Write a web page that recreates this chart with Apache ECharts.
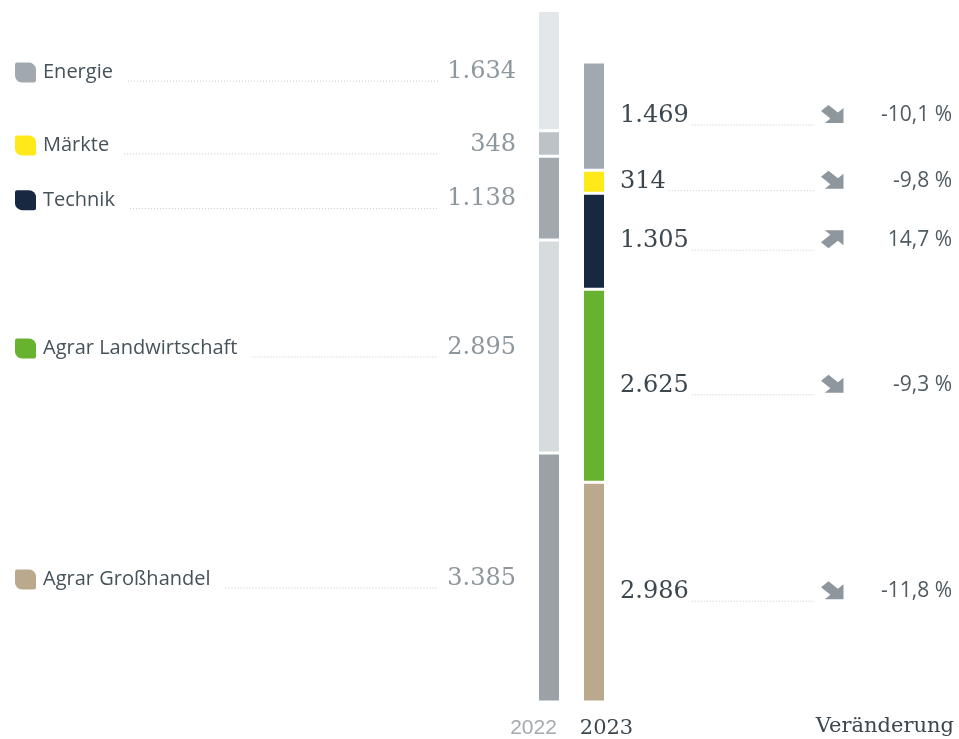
<!DOCTYPE html>
<html>
<head>
<meta charset="utf-8">
<script src="https://cdn.jsdelivr.net/npm/echarts@6/dist/echarts.min.js"></script>
<style>
html, body { margin: 0; padding: 0; background: #fff; }
#main { width: 959px; height: 739px; }
</style>
</head>
<body>
<div id="main"></div>
<script>
// Daten (von oben nach unten im Stapel)
var categories = ['Energie', 'Märkte', 'Technik', 'Agrar Landwirtschaft', 'Agrar Großhandel'];
var years = ['2022', '2023'];
var values2022 = [1634, 348, 1138, 2895, 3385];
var values2023 = [1469, 314, 1305, 2625, 2986];
var changeLabels = ['-10,1 %', '-9,8 %', '14,7 %', '-9,3 %', '-11,8 %'];
var changeUp = [false, false, true, false, false];

var colors2022 = ['#e3e7ea', '#bcc3c7', '#a1a9af', '#d6dbde', '#9aa1a7'];
var colors2023 = ['#a1a9af', '#ffe919', '#172840', '#67b22f', '#bba98d'];

var labelFont = '20px "Open Sans"';
var numFont = '24px "DejaVu Serif"';
var pctFont = '21px "Open Sans"';
var dotColor = '#c3c8cb';

var chart = echarts.init(document.getElementById('main'));

function fmt(v) {
    return String(v).replace(/\B(?=(\d{3})+(?!\d))/g, '.');
}

var measureCtx = document.createElement('canvas').getContext('2d');
function measure(text, font) {
    measureCtx.font = font;
    return measureCtx.measureText(text).width;
}

// gestapelte Balken: erste Serie liegt unten
var barSeries = [];
for (var i = categories.length - 1; i >= 0; i--) {
    barSeries.push({
        type: 'bar',
        name: categories[i],
        stack: 'total',
        barWidth: 23,
        silent: true,
        itemStyle: { borderColor: '#fff', borderWidth: 1.5 },
        data: [
            { value: values2022[i], itemStyle: { color: colors2022[i] } },
            { value: values2023[i], itemStyle: { color: colors2023[i] } }
        ]
    });
}

// Segmentgrenzen für die Beschriftungen
var segData = [];
[values2022, values2023].forEach(function (vals, yi) {
    var base = 0;
    for (var i = vals.length - 1; i >= 0; i--) {
        segData.push([yi, base, base + vals[i], i]);
        base += vals[i];
    }
});

// Pfeil nach rechts unten, für "hoch" gespiegelt
function arrowPoints(up) {
    var pts = [[18, 18], [3, 18], [7.5, 13.5], [0, 6], [6, 0], [13.5, 7.5], [18, 3]];
    return pts.map(function (p) {
        return [p[0], up ? 18 - p[1] : p[1]];
    });
}

function renderLabels(params, api) {
    var yi = api.value(0), start = api.value(1), end = api.value(2), ci = api.value(3);
    var p = api.coord([yi, (start + end) / 2]);
    var bx = p[0], cy = p[1];
    var children = [];
    if (yi === 0) {
        var ly = cy + 2;
        var name = categories[ci];
        var nw = measure(name, labelFont);
        var valStr = fmt(values2022[ci]);
        children.push({
            type: 'rect',
            shape: { x: 15, y: ly - 10, width: 21, height: 20, r: [2, 7, 2, 7] },
            style: { fill: colors2023[ci] }
        });
        children.push({
            type: 'text',
            style: { text: name, x: 43, y: ly, verticalAlign: 'middle', font: labelFont, fill: '#46525a' }
        });
        children.push({
            type: 'line',
            shape: { x1: 43 + nw + 15, y1: ly + 8.5, x2: bx - 111, y2: ly + 8.5 },
            style: { stroke: dotColor, lineWidth: 1, lineDash: [1, 2] }
        });
        children.push({
            type: 'text',
            style: { text: valStr, x: bx - 33, y: ly - 1, align: 'right', verticalAlign: 'middle', font: numFont, fill: '#8d979d' }
        });
    } else {
        var vs = fmt(values2023[ci]);
        var vw = measure(vs, numFont);
        children.push({
            type: 'text',
            style: { text: vs, x: bx + 26, y: cy, verticalAlign: 'middle', font: numFont, fill: '#3b464e' }
        });
        children.push({
            type: 'line',
            shape: { x1: bx + 26 + vw + 3, y1: cy + 9, x2: bx + 221, y2: cy + 9 },
            style: { stroke: dotColor, lineWidth: 1, lineDash: [1, 2] }
        });
        children.push({
            type: 'polygon',
            x: bx + 227, y: cy - 11,
            scaleX: 1.25, scaleY: 1,
            shape: { points: arrowPoints(changeUp[ci]) },
            style: { fill: '#8e979d' }
        });
        children.push({
            type: 'text',
            style: { text: changeLabels[ci], x: 952, y: cy - 1, align: 'right', verticalAlign: 'middle', font: pctFont, fill: '#4f5a61' }
        });
    }
    return { type: 'group', children: children };
}

var option = {
    backgroundColor: '#fff',
    animation: false,
    grid: { left: 526.5, width: 90, top: 10.5, bottom: 36.5 },
    xAxis: {
        type: 'category',
        data: years,
        axisLine: { show: false },
        axisTick: { show: false },
        axisLabel: {
            interval: 0,
            margin: 16,
            formatter: function (v, idx) {
                return idx === 0 ? '{a|' + v + '}' : '{b|' + v + '}';
            },
            rich: {
                a: { fontFamily: 'Liberation Sans', fontSize: 21, color: '#a3aab0', padding: [0, 31, 0, 0] },
                b: { fontFamily: 'DejaVu Serif', fontSize: 21, color: '#3b464e', padding: [0, 0, 0, 25] }
            }
        }
    },
    yAxis: { type: 'value', min: 0, max: 9400, show: false },
    graphic: [{
        type: 'text',
        right: 5,
        top: 716,
        style: { text: 'Veränderung', font: '21px "DejaVu Serif"', fill: '#3b464e' }
    }],
    series: barSeries.concat([{
        type: 'custom',
        silent: true,
        z: 10,
        clip: false,
        encode: { x: 0, y: [1, 2] },
        renderItem: renderLabels,
        data: segData
    }])
};

chart.setOption(option);
</script>
</body>
</html>
